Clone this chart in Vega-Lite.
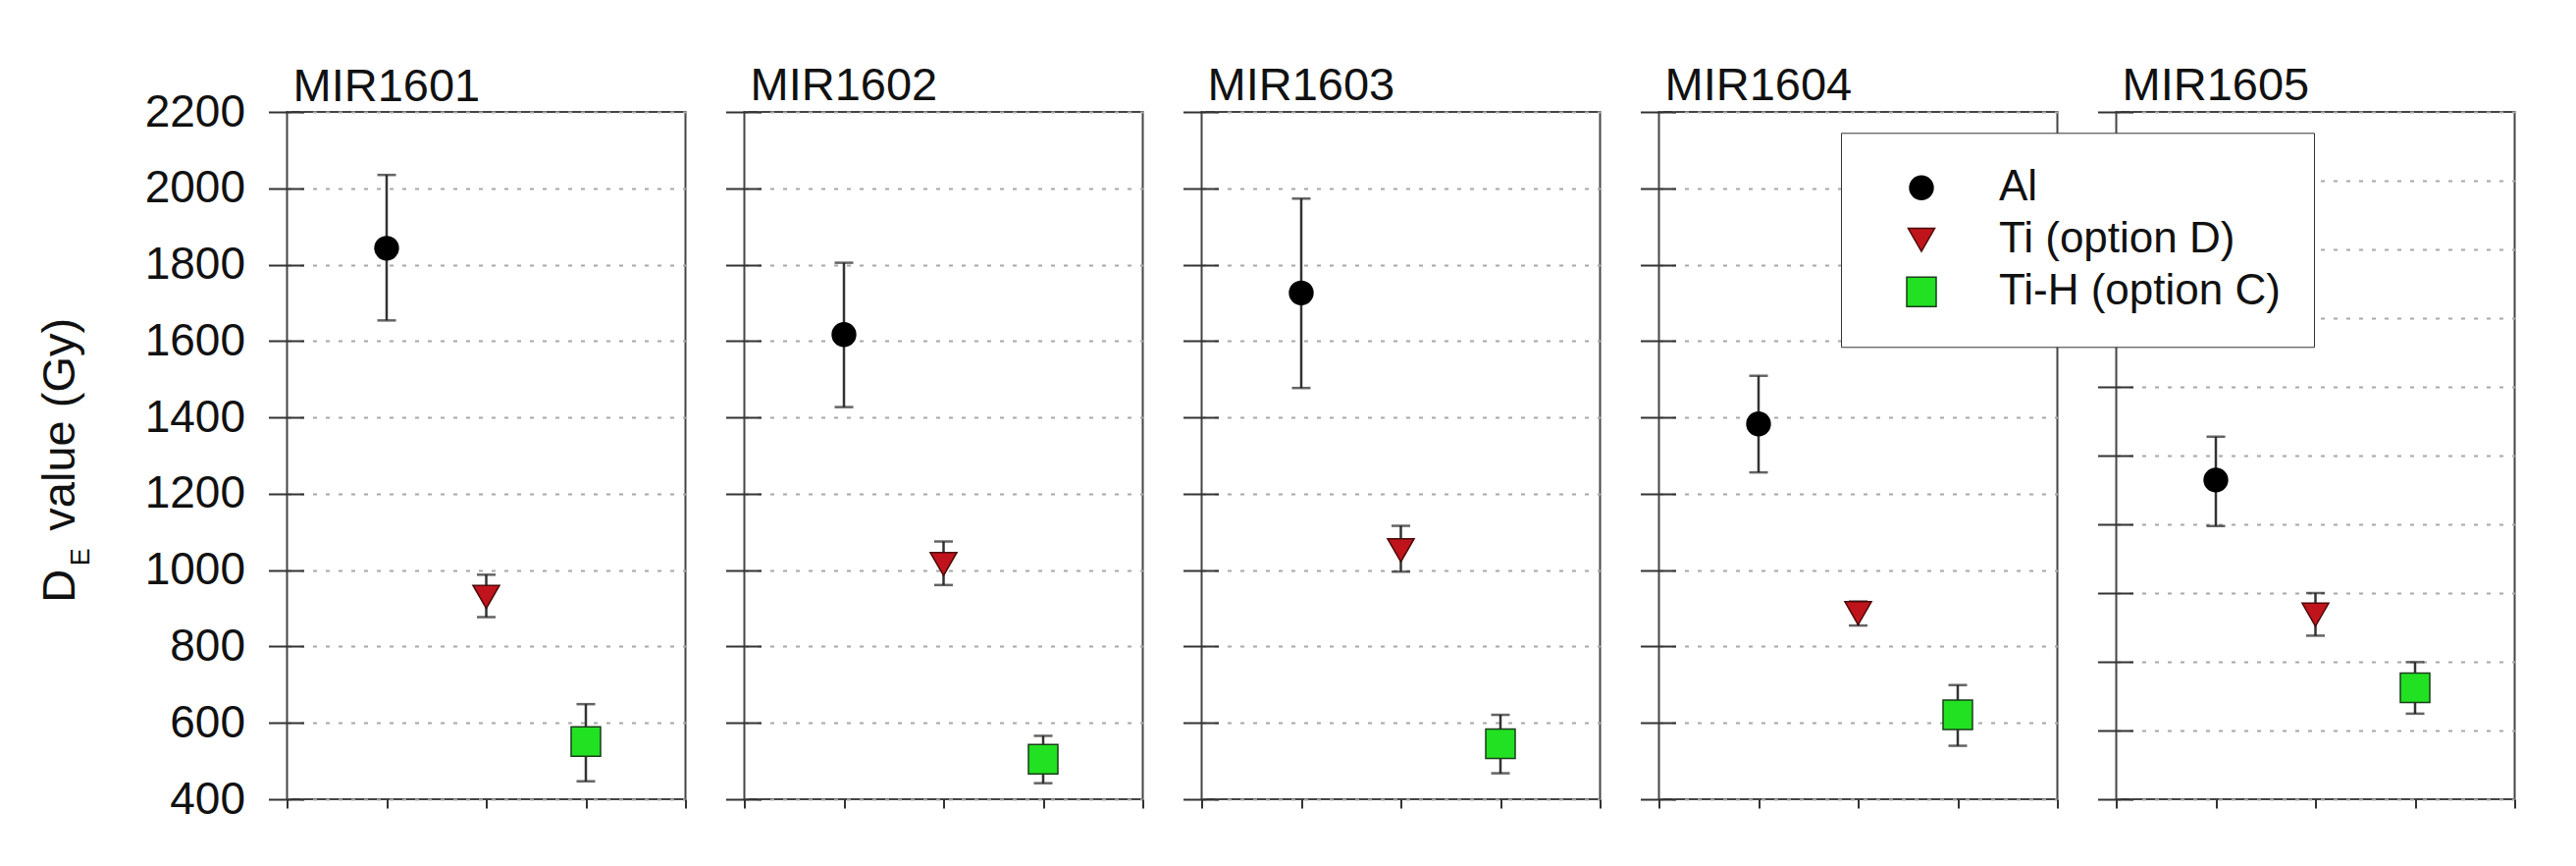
{
  "$schema": "https://vega.github.io/schema/vega-lite/v6.json",
  "background": "white",
  "padding": {"left": 35.5, "top": 63, "right": 10, "bottom": 10},
  "spacing": 60,
  "bounds": "flush",
  "config": {
    "view": {"stroke": "#444444", "strokeWidth": 2},
    "font": "Liberation Sans"
  },
  "data": {
    "values": [
      {"panel": "MIR1601", "series": "Al", "pos": 1, "value": 1843, "lo": 1654, "hi": 2035},
      {"panel": "MIR1601", "series": "Ti (option D)", "pos": 2, "value": 930, "lo": 877, "hi": 988},
      {"panel": "MIR1601", "series": "Ti-H (option C)", "pos": 3, "value": 551, "lo": 447, "hi": 649},
      {"panel": "MIR1602", "series": "Al", "pos": 1, "value": 1617, "lo": 1427, "hi": 1805},
      {"panel": "MIR1602", "series": "Ti (option D)", "pos": 2, "value": 1016, "lo": 961, "hi": 1075},
      {"panel": "MIR1602", "series": "Ti-H (option C)", "pos": 3, "value": 505, "lo": 442, "hi": 566},
      {"panel": "MIR1603", "series": "Al", "pos": 1, "value": 1726, "lo": 1477, "hi": 1973},
      {"panel": "MIR1603", "series": "Ti (option D)", "pos": 2, "value": 1052, "lo": 996, "hi": 1116},
      {"panel": "MIR1603", "series": "Ti-H (option C)", "pos": 3, "value": 545, "lo": 468, "hi": 621},
      {"panel": "MIR1604", "series": "Al", "pos": 1, "value": 1383, "lo": 1256, "hi": 1509},
      {"panel": "MIR1604", "series": "Ti (option D)", "pos": 2, "value": 887, "lo": 855, "hi": 918},
      {"panel": "MIR1604", "series": "Ti-H (option C)", "pos": 3, "value": 621, "lo": 540, "hi": 699},
      {"panel": "MIR1605", "series": "Al", "pos": 1, "value": 1329, "lo": 1195, "hi": 1455},
      {"panel": "MIR1605", "series": "Ti (option D)", "pos": 2, "value": 937, "lo": 876, "hi": 1000},
      {"panel": "MIR1605", "series": "Ti-H (option C)", "pos": 3, "value": 724, "lo": 649, "hi": 799}
    ]
  },
  "hconcat": [
    {
      "title": {"text": "MIR1601", "anchor": "start", "frame": "group", "fontSize": 47, "fontWeight": "normal", "color": "#111111", "baseline": "alphabetic", "offset": -59.3, "dx": 6},
      "width": 406, "height": 700,
      "transform": [{"filter": "datum.panel == 'MIR1601'"}],
      "encoding": {
        "x": {"field": "pos", "type": "quantitative", "scale": {"domain": [0, 4], "nice": false, "zero": false}, "axis": {"values": [0, 1, 2, 3, 4], "labels": false, "domain": false, "grid": false, "ticks": true, "tickSize": 9, "tickColor": "#333333", "tickWidth": 2, "title": null}}
      },
      "layer": [
        {"mark": {"type": "rule", "color": "#333333", "strokeWidth": 2.5},
         "encoding": {
           "y": {"field": "lo", "type": "quantitative", "scale": {"domain": [400, 2200], "nice": false, "zero": false},
                 "axis": {"orient": "left", "values": [400, 600, 800, 1000, 1200, 1400, 1600, 1800, 2000, 2200], "format": "d", "grid": true, "gridColor": "#a8a8a8", "gridDash": [4, 9], "gridWidth": 2, "domain": false, "ticks": true, "tickSize": 19, "tickColor": "#333333", "tickWidth": 2, "labels": true, "labelFontSize": 46, "labelColor": "#111111", "labelPadding": 24, "labelFlush": false, "labelOverlap": false, "title": "D\u00a0\u00a0\u00a0value (Gy)", "titleFontSize": 47, "titleFontWeight": "normal", "titleColor": "#111111", "titleAngle": 270, "titleAlign": "center", "titleBaseline": "alphabetic", "titleX": -217, "titleY": 354.3}},
           "y2": {"field": "hi"}
         }},
        {"mark": {"type": "tick", "orient": "horizontal", "size": 19, "thickness": 2.5, "color": "#222222"},
         "encoding": {"y": {"field": "hi", "type": "quantitative", "axis": null}}},
        {"mark": {"type": "tick", "orient": "horizontal", "size": 19, "thickness": 2.5, "color": "#222222"},
         "encoding": {"y": {"field": "lo", "type": "quantitative", "axis": null}}},
        {"mark": {"type": "point", "filled": true, "opacity": 1, "strokeWidth": 1.5},
         "encoding": {
           "y": {"field": "value", "type": "quantitative",
                 "axis": {"orient": "left", "offset": -17, "values": [400, 600, 800, 1000, 1200, 1400, 1600, 1800, 2000, 2200], "grid": false, "domain": false, "ticks": true, "tickSize": 17, "tickColor": "#333333", "tickWidth": 2, "labels": false, "title": "E", "titleFontSize": 27, "titleFontWeight": "normal", "titleColor": "#111111", "titleAngle": 270, "titleAlign": "center", "titleBaseline": "alphabetic", "titleX": -219, "titleY": 452.8}},
           "shape": {"field": "series", "type": "nominal", "scale": {"domain": ["Al", "Ti (option D)", "Ti-H (option C)"], "range": ["circle", "triangle-down", "square"]},
                     "legend": {"orient": "none", "legendX": 1583.5, "legendY": 21.3, "title": null, "padding": 34, "symbolOffset": 26, "labelOffset": 57, "rowPadding": 9, "labelFontSize": 44, "labelColor": "#111111", "labelLimit": 0, "strokeColor": "#333333", "fillColor": "white"}},
           "fill": {"field": "series", "type": "nominal", "scale": {"domain": ["Al", "Ti (option D)", "Ti-H (option C)"], "range": ["#000000", "#c0141c", "#22e022"]}},
           "stroke": {"field": "series", "type": "nominal", "scale": {"domain": ["Al", "Ti (option D)", "Ti-H (option C)"], "range": ["#000000", "#4a0a0a", "#1a3d1a"]}},
           "size": {"field": "series", "type": "ordinal", "scale": {"domain": ["Al", "Ti (option D)", "Ti-H (option C)"], "range": [570, 900, 560]}}
         }}
      ],
      "resolve": {"axis": {"y": "independent"}}
    },
    {
      "title": {"text": "MIR1602", "anchor": "start", "frame": "group", "fontSize": 47, "fontWeight": "normal", "color": "#111111", "baseline": "alphabetic", "offset": -36.3, "dx": 6},
      "width": 406, "height": 700,
      "transform": [{"filter": "datum.panel == 'MIR1602'"}],
      "encoding": {
        "x": {"field": "pos", "type": "quantitative", "scale": {"domain": [0, 4], "nice": false, "zero": false}, "axis": {"values": [0, 1, 2, 3, 4], "labels": false, "domain": false, "grid": false, "ticks": true, "tickSize": 9, "tickColor": "#333333", "tickWidth": 2, "title": null}}
      },
      "layer": [
        {"mark": {"type": "rule", "color": "#333333", "strokeWidth": 2.5},
         "encoding": {
           "y": {"field": "lo", "type": "quantitative", "scale": {"domain": [400, 2200], "nice": false, "zero": false},
                 "axis": {"orient": "left", "values": [400, 600, 800, 1000, 1200, 1400, 1600, 1800, 2000, 2200], "grid": true, "gridColor": "#a8a8a8", "gridDash": [4, 9], "gridWidth": 2, "domain": false, "ticks": true, "tickSize": 19, "tickColor": "#333333", "tickWidth": 2, "labels": false, "title": null}},
           "y2": {"field": "hi"}
         }},
        {"mark": {"type": "tick", "orient": "horizontal", "size": 19, "thickness": 2.5, "color": "#222222"},
         "encoding": {"y": {"field": "hi", "type": "quantitative", "axis": null}}},
        {"mark": {"type": "tick", "orient": "horizontal", "size": 19, "thickness": 2.5, "color": "#222222"},
         "encoding": {"y": {"field": "lo", "type": "quantitative", "axis": null}}},
        {"mark": {"type": "point", "filled": true, "opacity": 1, "strokeWidth": 1.5},
         "encoding": {
           "y": {"field": "value", "type": "quantitative",
                 "axis": {"orient": "left", "offset": -17, "values": [400, 600, 800, 1000, 1200, 1400, 1600, 1800, 2000, 2200], "grid": false, "domain": false, "ticks": true, "tickSize": 17, "tickColor": "#333333", "tickWidth": 2, "labels": false, "title": null}},
           "shape": {"field": "series", "type": "nominal", "scale": {"domain": ["Al", "Ti (option D)", "Ti-H (option C)"], "range": ["circle", "triangle-down", "square"]}},
           "fill": {"field": "series", "type": "nominal", "scale": {"domain": ["Al", "Ti (option D)", "Ti-H (option C)"], "range": ["#000000", "#c0141c", "#22e022"]}},
           "stroke": {"field": "series", "type": "nominal", "scale": {"domain": ["Al", "Ti (option D)", "Ti-H (option C)"], "range": ["#000000", "#4a0a0a", "#1a3d1a"]}},
           "size": {"field": "series", "type": "ordinal", "scale": {"domain": ["Al", "Ti (option D)", "Ti-H (option C)"], "range": [570, 900, 560]}}
         }}
      ],
      "resolve": {"axis": {"y": "independent"}}
    },
    {
      "title": {"text": "MIR1603", "anchor": "start", "frame": "group", "fontSize": 47, "fontWeight": "normal", "color": "#111111", "baseline": "alphabetic", "offset": -36.3, "dx": 6},
      "width": 406, "height": 700,
      "transform": [{"filter": "datum.panel == 'MIR1603'"}],
      "encoding": {
        "x": {"field": "pos", "type": "quantitative", "scale": {"domain": [0, 4], "nice": false, "zero": false}, "axis": {"values": [0, 1, 2, 3, 4], "labels": false, "domain": false, "grid": false, "ticks": true, "tickSize": 9, "tickColor": "#333333", "tickWidth": 2, "title": null}}
      },
      "layer": [
        {"mark": {"type": "rule", "color": "#333333", "strokeWidth": 2.5},
         "encoding": {
           "y": {"field": "lo", "type": "quantitative", "scale": {"domain": [400, 2200], "nice": false, "zero": false},
                 "axis": {"orient": "left", "values": [400, 600, 800, 1000, 1200, 1400, 1600, 1800, 2000, 2200], "grid": true, "gridColor": "#a8a8a8", "gridDash": [4, 9], "gridWidth": 2, "domain": false, "ticks": true, "tickSize": 19, "tickColor": "#333333", "tickWidth": 2, "labels": false, "title": null}},
           "y2": {"field": "hi"}
         }},
        {"mark": {"type": "tick", "orient": "horizontal", "size": 19, "thickness": 2.5, "color": "#222222"},
         "encoding": {"y": {"field": "hi", "type": "quantitative", "axis": null}}},
        {"mark": {"type": "tick", "orient": "horizontal", "size": 19, "thickness": 2.5, "color": "#222222"},
         "encoding": {"y": {"field": "lo", "type": "quantitative", "axis": null}}},
        {"mark": {"type": "point", "filled": true, "opacity": 1, "strokeWidth": 1.5},
         "encoding": {
           "y": {"field": "value", "type": "quantitative",
                 "axis": {"orient": "left", "offset": -17, "values": [400, 600, 800, 1000, 1200, 1400, 1600, 1800, 2000, 2200], "grid": false, "domain": false, "ticks": true, "tickSize": 17, "tickColor": "#333333", "tickWidth": 2, "labels": false, "title": null}},
           "shape": {"field": "series", "type": "nominal", "scale": {"domain": ["Al", "Ti (option D)", "Ti-H (option C)"], "range": ["circle", "triangle-down", "square"]}},
           "fill": {"field": "series", "type": "nominal", "scale": {"domain": ["Al", "Ti (option D)", "Ti-H (option C)"], "range": ["#000000", "#c0141c", "#22e022"]}},
           "stroke": {"field": "series", "type": "nominal", "scale": {"domain": ["Al", "Ti (option D)", "Ti-H (option C)"], "range": ["#000000", "#4a0a0a", "#1a3d1a"]}},
           "size": {"field": "series", "type": "ordinal", "scale": {"domain": ["Al", "Ti (option D)", "Ti-H (option C)"], "range": [570, 900, 560]}}
         }}
      ],
      "resolve": {"axis": {"y": "independent"}}
    },
    {
      "title": {"text": "MIR1604", "anchor": "start", "frame": "group", "fontSize": 47, "fontWeight": "normal", "color": "#111111", "baseline": "alphabetic", "offset": -36.3, "dx": 6},
      "width": 406, "height": 700,
      "transform": [{"filter": "datum.panel == 'MIR1604'"}],
      "encoding": {
        "x": {"field": "pos", "type": "quantitative", "scale": {"domain": [0, 4], "nice": false, "zero": false}, "axis": {"values": [0, 1, 2, 3, 4], "labels": false, "domain": false, "grid": false, "ticks": true, "tickSize": 9, "tickColor": "#333333", "tickWidth": 2, "title": null}}
      },
      "layer": [
        {"mark": {"type": "rule", "color": "#333333", "strokeWidth": 2.5},
         "encoding": {
           "y": {"field": "lo", "type": "quantitative", "scale": {"domain": [400, 2200], "nice": false, "zero": false},
                 "axis": {"orient": "left", "values": [400, 600, 800, 1000, 1200, 1400, 1600, 1800, 2000, 2200], "grid": true, "gridColor": "#a8a8a8", "gridDash": [4, 9], "gridWidth": 2, "domain": false, "ticks": true, "tickSize": 19, "tickColor": "#333333", "tickWidth": 2, "labels": false, "title": null}},
           "y2": {"field": "hi"}
         }},
        {"mark": {"type": "tick", "orient": "horizontal", "size": 19, "thickness": 2.5, "color": "#222222"},
         "encoding": {"y": {"field": "hi", "type": "quantitative", "axis": null}}},
        {"mark": {"type": "tick", "orient": "horizontal", "size": 19, "thickness": 2.5, "color": "#222222"},
         "encoding": {"y": {"field": "lo", "type": "quantitative", "axis": null}}},
        {"mark": {"type": "point", "filled": true, "opacity": 1, "strokeWidth": 1.5},
         "encoding": {
           "y": {"field": "value", "type": "quantitative",
                 "axis": {"orient": "left", "offset": -17, "values": [400, 600, 800, 1000, 1200, 1400, 1600, 1800, 2000, 2200], "grid": false, "domain": false, "ticks": true, "tickSize": 17, "tickColor": "#333333", "tickWidth": 2, "labels": false, "title": null}},
           "shape": {"field": "series", "type": "nominal", "scale": {"domain": ["Al", "Ti (option D)", "Ti-H (option C)"], "range": ["circle", "triangle-down", "square"]}},
           "fill": {"field": "series", "type": "nominal", "scale": {"domain": ["Al", "Ti (option D)", "Ti-H (option C)"], "range": ["#000000", "#c0141c", "#22e022"]}},
           "stroke": {"field": "series", "type": "nominal", "scale": {"domain": ["Al", "Ti (option D)", "Ti-H (option C)"], "range": ["#000000", "#4a0a0a", "#1a3d1a"]}},
           "size": {"field": "series", "type": "ordinal", "scale": {"domain": ["Al", "Ti (option D)", "Ti-H (option C)"], "range": [570, 900, 560]}}
         }}
      ],
      "resolve": {"axis": {"y": "independent"}}
    },
    {
      "title": {"text": "MIR1605", "anchor": "start", "frame": "group", "fontSize": 47, "fontWeight": "normal", "color": "#111111", "baseline": "alphabetic", "offset": -36.3, "dx": 6},
      "width": 406, "height": 700,
      "transform": [{"filter": "datum.panel == 'MIR1605'"}],
      "encoding": {
        "x": {"field": "pos", "type": "quantitative", "scale": {"domain": [0, 4], "nice": false, "zero": false}, "axis": {"values": [0, 1, 2, 3, 4], "labels": false, "domain": false, "grid": false, "ticks": true, "tickSize": 9, "tickColor": "#333333", "tickWidth": 2, "title": null}}
      },
      "layer": [
        {"mark": {"type": "rule", "color": "#333333", "strokeWidth": 2.5},
         "encoding": {
           "y": {"field": "lo", "type": "quantitative", "scale": {"domain": [400, 2400], "nice": false, "zero": false},
                 "axis": {"orient": "left", "values": [400, 600, 800, 1000, 1200, 1400, 1600, 1800, 2000, 2200, 2400], "grid": true, "gridColor": "#a8a8a8", "gridDash": [4, 9], "gridWidth": 2, "domain": false, "ticks": true, "tickSize": 19, "tickColor": "#333333", "tickWidth": 2, "labels": false, "title": null}},
           "y2": {"field": "hi"}
         }},
        {"mark": {"type": "tick", "orient": "horizontal", "size": 19, "thickness": 2.5, "color": "#222222"},
         "encoding": {"y": {"field": "hi", "type": "quantitative", "axis": null}}},
        {"mark": {"type": "tick", "orient": "horizontal", "size": 19, "thickness": 2.5, "color": "#222222"},
         "encoding": {"y": {"field": "lo", "type": "quantitative", "axis": null}}},
        {"mark": {"type": "point", "filled": true, "opacity": 1, "strokeWidth": 1.5},
         "encoding": {
           "y": {"field": "value", "type": "quantitative",
                 "axis": {"orient": "left", "offset": -17, "values": [400, 600, 800, 1000, 1200, 1400, 1600, 1800, 2000, 2200, 2400], "grid": false, "domain": false, "ticks": true, "tickSize": 17, "tickColor": "#333333", "tickWidth": 2, "labels": false, "title": null}},
           "shape": {"field": "series", "type": "nominal", "scale": {"domain": ["Al", "Ti (option D)", "Ti-H (option C)"], "range": ["circle", "triangle-down", "square"]}},
           "fill": {"field": "series", "type": "nominal", "scale": {"domain": ["Al", "Ti (option D)", "Ti-H (option C)"], "range": ["#000000", "#c0141c", "#22e022"]}},
           "stroke": {"field": "series", "type": "nominal", "scale": {"domain": ["Al", "Ti (option D)", "Ti-H (option C)"], "range": ["#000000", "#4a0a0a", "#1a3d1a"]}},
           "size": {"field": "series", "type": "ordinal", "scale": {"domain": ["Al", "Ti (option D)", "Ti-H (option C)"], "range": [570, 900, 560]}}
         }}
      ],
      "resolve": {"axis": {"y": "independent"}}
    }
  ]
}
